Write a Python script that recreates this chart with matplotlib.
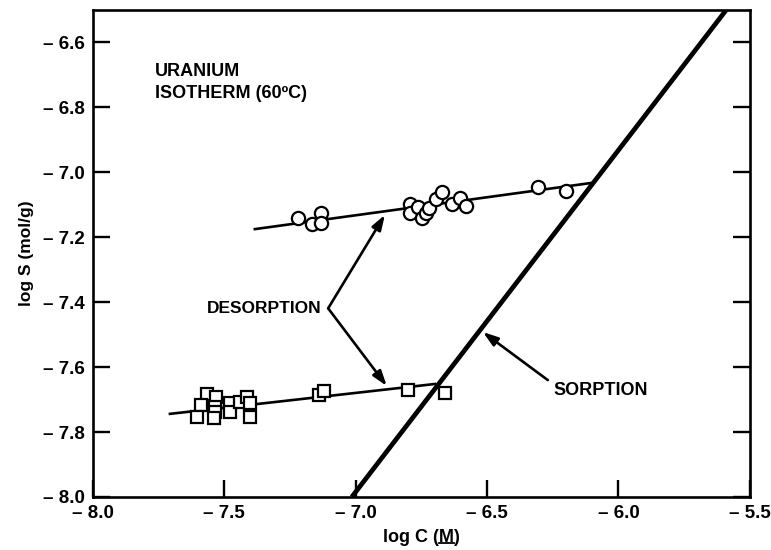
import matplotlib
matplotlib.use("Agg")
import matplotlib.pyplot as plt
import numpy as np

plt.rcParams['font.family'] = ['Liberation Sans', 'DejaVu Sans']
plt.rcParams['font.weight'] = 'bold'

# Desorption data, upper isotherm (circles)
circ_logC = [-7.220, -7.168, -7.134, -7.134, -6.794, -6.794, -6.762, -6.749,
             -6.733, -6.720, -6.696, -6.673, -6.635, -6.603, -6.582, -6.308, -6.200]
circ_logS = [-7.141, -7.159, -7.126, -7.157, -7.099, -7.126, -7.106, -7.142,
             -7.124, -7.109, -7.083, -7.060, -7.098, -7.078, -7.103, -7.044, -7.058]

# Desorption data, lower isotherm (squares)
sq_logC = [-7.565, -7.533, -7.590, -7.605, -7.536, -7.536, -7.540, -7.479, -7.479,
           -7.441, -7.413, -7.403, -7.403, -7.139, -7.121, -6.800, -6.661]
sq_logS = [-7.683, -7.693, -7.717, -7.753, -7.722, -7.738, -7.758, -7.711, -7.737,
           -7.707, -7.693, -7.711, -7.753, -7.686, -7.673, -7.670, -7.679]

# Fitted lines (end points)
upper_fit_C = [-7.384, -6.105]
upper_fit_S = [-7.175, -7.033]
lower_fit_C = [-7.707, -6.699]
lower_fit_S = [-7.744, -7.652]
sorption_C = [-7.015, -5.59]
sorption_S = [-8.0, -6.5]

xticks = [-8.0, -7.5, -7.0, -6.5, -6.0, -5.5]
xticklabels = ['\u2013 8.0', '\u2013 7.5', '\u2013 7.0', '\u2013 6.5', '\u2013 6.0', '\u2013 5.5']
yticks = [-8.0, -7.8, -7.6, -7.4, -7.2, -7.0, -6.8, -6.6]
yticklabels = ['\u2013 8.0', '\u2013 7.8', '\u2013 7.6', '\u2013 7.4', '\u2013 7.2', '\u2013 7.0', '\u2013 6.8', '\u2013 6.6']

fig = plt.figure(figsize=(7.71, 5.5), dpi=100)
ax = fig.add_axes([0.1206, 0.0964, 0.852, 0.8855])

ax.plot(sorption_C, sorption_S, color='black', lw=3.4, solid_capstyle='butt', zorder=2)
ax.plot(upper_fit_C, upper_fit_S, color='black', lw=1.9, zorder=2)
ax.plot(lower_fit_C, lower_fit_S, color='black', lw=1.9, zorder=2)

ax.plot(circ_logC, circ_logS, linestyle='none', marker='o', ms=9.5,
        mfc='white', mec='black', mew=1.6, zorder=3)
ax.plot(sq_logC, sq_logS, linestyle='none', marker='s', ms=9,
        mfc='white', mec='black', mew=1.6, zorder=3)

ax.set_xlim(-8.0, -5.5)
ax.set_ylim(-8.0, -6.5)
ax.set_xticks(xticks)
ax.set_xticklabels(xticklabels)
ax.set_yticks(yticks)
ax.set_yticklabels(yticklabels)
ax.tick_params(direction='in', length=12, width=1.7, labelsize=13.5,
               right=True, top=False, pad=6)
for lab in ax.get_xticklabels() + ax.get_yticklabels():
    lab.set_fontweight('bold')
for s in ax.spines.values():
    s.set_linewidth(1.9)

ax.set_ylabel('log S (mol/g)', fontsize=12.5, fontweight='bold', labelpad=6)
xl = ax.set_xlabel('log C (M)', fontsize=13, fontweight='bold', labelpad=5)

ax.text(-7.764, -6.662, 'URANIUM\nISOTHERM (60\u00baC)', fontsize=13,
        fontweight='bold', ha='left', va='top', linespacing=1.4)

ax.text(-7.129, -7.418, 'DESORPTION', fontsize=12.5, fontweight='bold',
        ha='right', va='center')
arrow_kw = dict(arrowstyle='-|>,head_length=0.9,head_width=0.3', color='black', lw=1.9,
                shrinkA=0, shrinkB=0)
ax.annotate('', xy=(-6.889, -7.131), xytext=(-7.105, -7.419), arrowprops=arrow_kw)
ax.annotate('', xy=(-6.882, -7.658), xytext=(-7.105, -7.419), arrowprops=arrow_kw)

ax.text(-6.249, -7.673, 'SORPTION', fontsize=13, fontweight='bold',
        ha='left', va='center')
ax.annotate('', xy=(-6.516, -7.492), xytext=(-6.269, -7.640), arrowprops=arrow_kw)

# underline the "M" of the x-axis label
fig.canvas.draw()
r = fig.canvas.get_renderer()
bb = xl.get_window_extent(r)
tmp1 = fig.text(0, 0, 'log C (M', fontsize=13, fontweight='bold')
tmp2 = fig.text(0, 0, 'M', fontsize=13, fontweight='bold')
w1 = tmp1.get_window_extent(r).width
w2 = tmp2.get_window_extent(r).width
tmp1.remove()
tmp2.remove()
x1 = (bb.x0 + w1) / fig.bbox.width
x0 = (bb.x0 + w1 - w2) / fig.bbox.width
yu = (bb.y0 + 3) / fig.bbox.height
fig.add_artist(plt.Line2D([x0, x1], [yu, yu], color='black', lw=1.3,
                          transform=fig.transFigure))

fig.savefig('out.png', dpi=100)
